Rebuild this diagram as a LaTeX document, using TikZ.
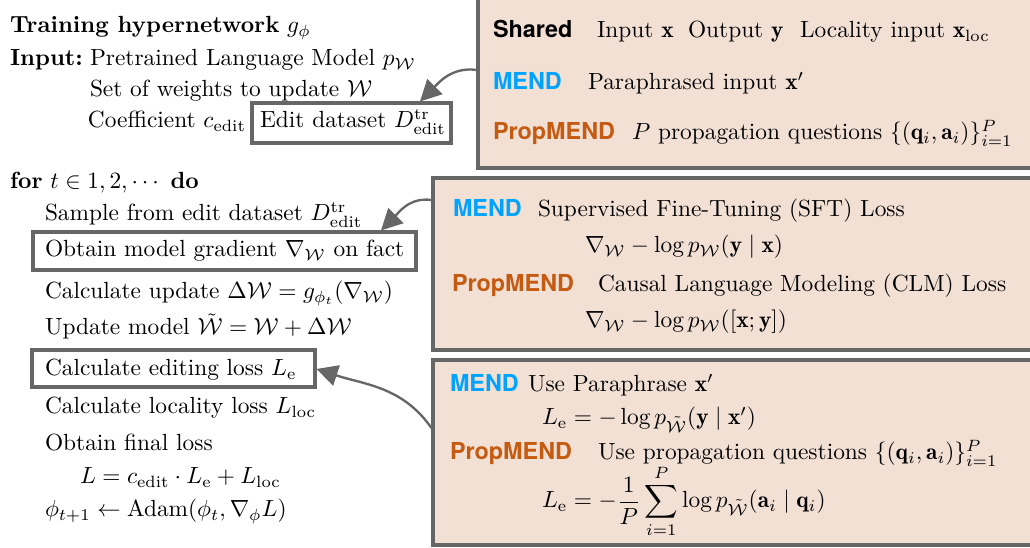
\documentclass[tikz,border=0pt]{standalone}
\usepackage{amsmath,amssymb}
\usepackage{fontspec}
\newfontfamily\heros{TeX Gyre Heros}
\usetikzlibrary{arrows.meta,fit}
\definecolor{boxfill}{RGB}{242,224,213}
\definecolor{boxline}{RGB}{102,102,102}
\definecolor{mendblue}{RGB}{0,163,255}
\definecolor{proporange}{RGB}{197,90,17}
\begin{document}
\begin{tikzpicture}[x=0.428pt,y=-0.428pt,
  txt/.style={anchor=base west,inner sep=0pt,outer sep=0pt},
  lab/.style={txt,font=\heros\bfseries},
  mend/.style={lab,text=mendblue},
  prop/.style={lab,text=proporange},
  bigbox/.style={draw=boxline,fill=boxfill,line width=1.3pt,inner sep=0pt},
  smallbox/.style={draw=boxline,line width=1.3pt,inner sep=0pt},
  arr/.style={draw=boxline,line width=1pt,-{Triangle[length=9pt,width=9pt]}}]
\useasboundingbox (0,0) rectangle (1030,548);
% right boxes
\node[bigbox,fit={(478,-10) (1045,168)}] (box1) {};
\node[bigbox,fit={(433,178) (1045,350)}] (box2) {};
\node[bigbox,fit={(433,360) (1045,545)}] (box3) {};
% left algorithm
\node[txt] (title) at (10,33) {\textbf{Training hypernetwork} $g_\phi$};
\node[txt] (inp) at (10,66) {\textbf{Input:}};
\node[txt] (plm) at (90,66) {Pretrained Language Model $p_{\mathcal{W}}$};
\node[txt] (sow) at (90,97) {Set of weights to update $\mathcal{W}$};
\node[txt] (coef) at (88,128) {Coefficient $c_{\text{edit}}$};
\node[txt] (editt) at (260,128) {Edit dataset $D^{\text{tr}}_{\text{edit}}$};
\node[smallbox,fit={(252,103) (451,143)}] (edit) {};
\node[txt] (for) at (10,189) {\textbf{for} $t \in 1, 2, \cdots$ \textbf{do}};
\node[txt] (sample) at (45,221) {Sample from edit dataset $D^{\text{tr}}_{\text{edit}}$};
\node[txt] (gradt) at (45,257) {Obtain model gradient $\nabla_{\mathcal{W}}$ on fact};
\node[smallbox,fit={(33,232) (416,270)}] (grad) {};
\node[txt] (calcu) at (45,299) {Calculate update $\Delta\mathcal{W} = g_{\phi_t}(\nabla_{\mathcal{W}})$};
\node[txt] (updm) at (45,335) {Update model $\tilde{\mathcal{W}} = \mathcal{W} + \Delta\mathcal{W}$};
\node[txt] (losst) at (45,376) {Calculate editing loss $L_{\text{e}}$};
\node[smallbox,fit={(32,350) (315,387)}] (loss) {};
\node[txt] (loc) at (45,414) {Calculate locality loss $L_{\text{loc}}$};
\node[txt] (fin) at (45,451) {Obtain final loss};
\node[txt] (leq) at (80,484) {$L = c_{\text{edit}} \cdot L_{\text{e}} + L_{\text{loc}}$};
\node[txt] (adam) at (45,517) {$\phi_{t+1} \leftarrow \text{Adam}(\phi_t, \nabla_\phi L)$};
% box 1
\node[lab] (sh) at (493,38) {Shared};
\node[txt] (sh1) at (597,38) {Input $\mathbf{x}$};
\node[txt] (sh2) at (688,38) {Output $\mathbf{y}$};
\node[txt] (sh3) at (800,38) {Locality input $\mathbf{x}_{\text{loc}}$};
\node[mend] (m1) at (493,90) {MEND};
\node[txt] (m1t) at (588,90) {Paraphrased input $\mathbf{x}'$};
\node[prop] (p1) at (493,140) {PropMEND};
\node[txt] (p1t) at (632,140) {$P$ propagation questions $\{(\mathbf{q}_i, \mathbf{a}_i)\}_{i=1}^{P}$};
% box 2
\node[mend] (m2) at (453,217) {MEND};
\node[txt] (m2t) at (538,217) {Supervised Fine-Tuning (SFT) Loss};
\node[txt] (m2f) at (585,253) {$\nabla_{\mathcal{W}} - \log p_{\mathcal{W}}(\mathbf{y} \mid \mathbf{x})$};
\node[prop] (p2) at (452,292) {PropMEND};
\node[txt] (p2t) at (598,292) {Causal Language Modeling (CLM) Loss};
\node[txt] (p2f) at (585,328) {$\nabla_{\mathcal{W}} - \log p_{\mathcal{W}}([\mathbf{x};\mathbf{y}])$};
% box 3
\node[mend] (m3) at (450,392) {MEND};
\node[txt] (m3t) at (528,392) {Use Paraphrase $\mathbf{x}'$};
\node[txt] (m3f) at (542,425) {$L_{\text{e}} = -\log p_{\tilde{\mathcal{W}}}(\mathbf{y} \mid \mathbf{x}')$};
\node[prop] (p3) at (450,460) {PropMEND};
\node[txt] (p3t) at (598,460) {Use propagation questions $\{(\mathbf{q}_i, \mathbf{a}_i)\}_{i=1}^{P}$};
\node[txt] (p3f) at (542,508) {$\displaystyle L_{\text{e}} = -\frac{1}{P}\sum_{i=1}^{P} \log p_{\tilde{\mathcal{W}}}(\mathbf{a}_i \mid \mathbf{q}_i)$};
% arrows
\coordinate (a1s) at (box1.west |- 0,70);
\coordinate (a1e) at (edit.north -| 420,0);
\coordinate (a2s) at (box2.west |- 0,200);
\coordinate (a2e) at (grad.north -| 381,0);
\coordinate (a3s) at (box3.west |- 0,428);
\coordinate (a3e) at (loss.east |- 0,369);
\draw[arr] (a1s) to[out=172,in=45] (a1e);
\draw[arr] (a2s) to[out=172,in=45] (a2e);
\draw[arr] (a3s) to[out=125,in=-18] (a3e);
\end{tikzpicture}
\end{document}
